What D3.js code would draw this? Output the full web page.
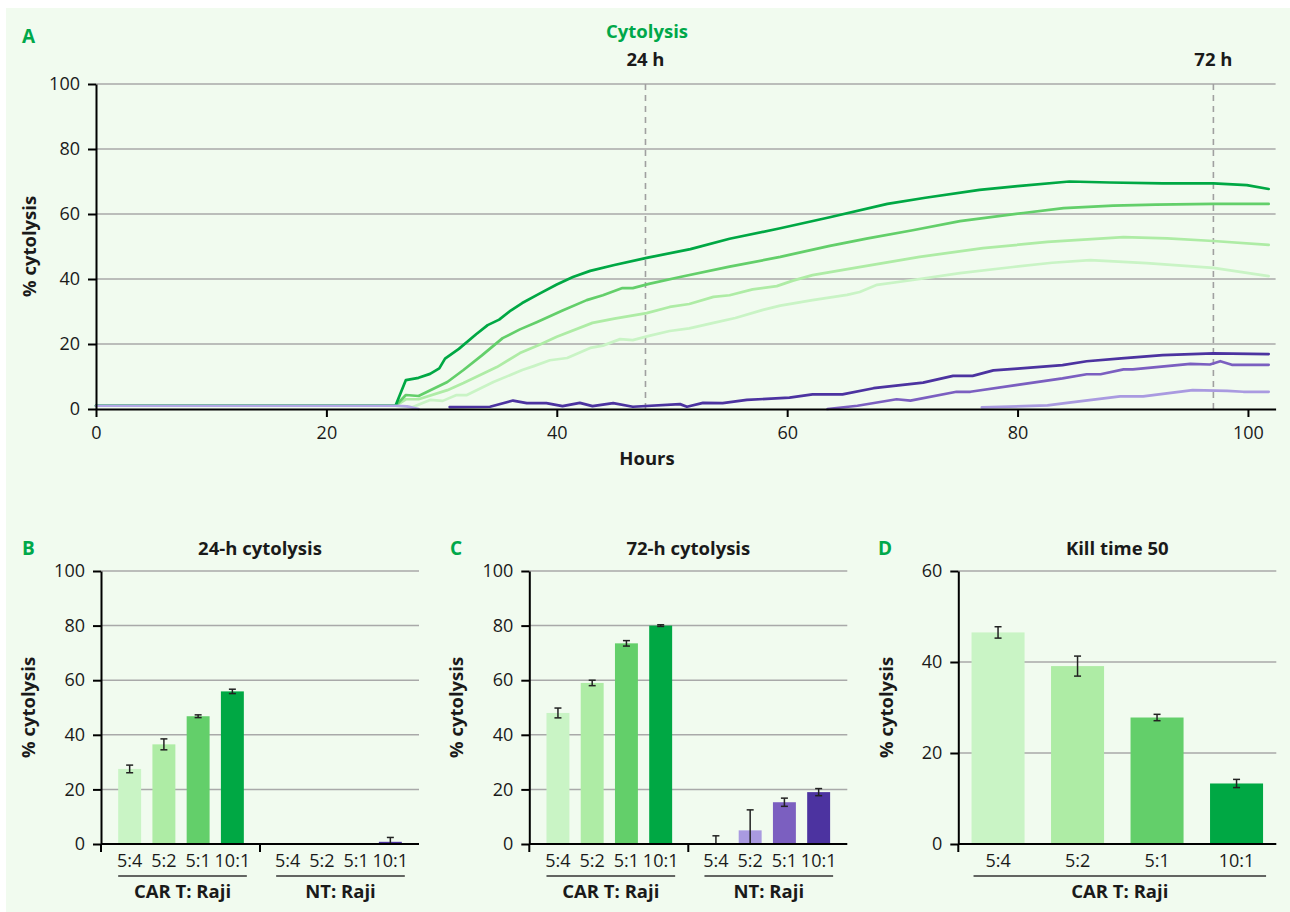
<!DOCTYPE html>
<html><head><meta charset="utf-8">
<script src="https://cdn.jsdelivr.net/npm/d3@7"></script>
<style>
body{margin:0;background:#fff}
svg text{font-family:"Open Sans","Noto Sans",sans-serif;fill:#1a1a1a}
</style>
</head><body><svg id="c" width="1290" height="912"></svg>
<script>
// ---------- DATA ----------
const hourTicks = [0, 20, 40, 60, 80, 100];
const pctTicks = [0, 20, 40, 60, 80, 100];
const killTicks = [0, 20, 40, 60];
const ratios = ["5:4", "5:2", "5:1", "10:1"];
const groupNames = ["CAR T: Raji", "NT: Raji"];
const markers = [{label: "24 h", hour: 47.7}, {label: "72 h", hour: 97}];

// time courses: [hour, % cytolysis]
const carT_10_1 = [[0,1],[26,1],[26.9,8.9],[28,9.6],[29,10.8],[29.8,12.5],[30.3,15.5],[31.5,18.5],[33,23],[34,25.8],[35,27.5],[36,30.3],[37,32.6],[38.5,35.5],[40,38.3],[41.4,40.6],[42.9,42.5],[45,44.3],[47.8,46.5],[51.6,49.2],[55,52.4],[59.4,55.6],[63.7,59],[68.7,63.1],[72,65],[76.7,67.4],[80,68.6],[84.5,70],[88,69.7],[92.6,69.4],[97,69.4],[99.9,68.9],[101.8,67.7]];
const carT_5_1 = [[0,1],[26,1],[26.9,4.3],[28,4.0],[30.5,8.3],[31.9,12],[33.5,16.5],[35.3,21.8],[36.8,24.5],[38.3,26.8],[40.5,30.3],[42.6,33.5],[44,35],[45.7,37.2],[46.6,37.2],[48,38.5],[50.7,40.6],[55,43.8],[59.4,46.8],[63.7,50.2],[67,52.5],[70.9,55],[75,57.8],[80.5,60.3],[84,61.8],[88.3,62.6],[92,62.9],[97,63.1],[101.8,63.1]];
const carT_5_2 = [[0,1],[26,1],[26.9,3],[28,3],[30.5,5.8],[31.9,8],[34.8,12.9],[36.8,17.2],[38.5,19.8],[40,22.2],[43.1,26.5],[45,27.8],[47.8,29.5],[49.8,31.4],[51.5,32.3],[53.6,34.5],[55,35],[57,36.8],[59.1,37.8],[60.5,39.5],[62.2,41.2],[66,43.5],[71.5,46.8],[77,49.5],[82.6,51.4],[89.2,52.9],[93,52.5],[97,51.7],[101.8,50.5]];
const carT_5_4 = [[0,1],[26,1],[27.5,0.6],[29,2.8],[30.1,2.5],[31.3,4.3],[32.2,4.3],[34.5,8.3],[37,12],[38,13.2],[39.4,15],[40.9,15.7],[42.9,18.8],[44,19.5],[45.5,21.5],[46.6,21.2],[48,22.5],[49.8,24],[51.5,24.8],[53.6,26.5],[55.5,28],[57.9,30.5],[59.4,31.8],[62.2,33.5],[65.2,35.1],[66.3,36],[67.8,38.2],[70.9,39.7],[75,41.8],[79.6,43.7],[83,45],[86.3,45.8],[91.2,44.9],[97,43.4],[101.8,40.9]];
const nt_10_1 = [[30.7,0.6],[34.2,0.7],[36.2,2.6],[37.4,1.8],[39.1,1.8],[40.5,0.9],[42,1.9],[43.1,0.9],[44.9,1.8],[46.6,0.7],[50.7,1.5],[51.3,0.7],[52.7,1.9],[54.4,1.8],[56.5,2.8],[60.2,3.5],[62.2,4.5],[64.8,4.5],[67.5,6.4],[71.8,8.1],[74.4,10.2],[76.1,10.2],[77.9,11.9],[80,12.4],[83.9,13.5],[86,14.7],[89,15.6],[92.6,16.6],[97,17.1],[101.8,16.9]];
const nt_5_1 = [[63.5,0],[66.1,1],[69.5,3],[70.7,2.6],[74.7,5.3],[75.9,5.3],[80,7.4],[83.9,9.4],[86,10.7],[87.2,10.7],[89.2,12.2],[90,12.2],[95,13.9],[96.7,13.7],[97.6,14.7],[98.6,13.6],[101.8,13.6]];
const nt_5_2 = [[76.9,0.5],[82.6,1.1],[84.3,1.9],[88.9,3.9],[90.9,3.9],[95.2,5.8],[98.2,5.6],[99.6,5.3],[101.8,5.3]];
const nt_5_4 = [[0,1],[26,1],[27,0.8],[28,0]];

// bar data
const car24 = [27.5, 36.5, 46.8, 55.9], car24Err = [1.4, 2.0, 0.5, 0.8];
const nt24 = [0, 0, 0, 0.8], nt24Err = [0, 0, 0, 1.6];
const car72 = [48, 59, 73.5, 80], car72Err = [1.8, 1.0, 1.0, 0.3];
const nt72 = [0, 5, 15.3, 19], nt72Err = [3, 7.5, 1.5, 1.3];
const kt50 = [46.5, 39.1, 27.8, 13.3], kt50Err = [1.25, 2.2, 0.7, 0.9];

// ---------- STYLE ----------
const greens = ["#c9f4c5", "#aeeca5", "#63cf6a", "#00a844"];
const purples = ["#b3a7e6", "#a99ae0", "#7b5fc0", "#4c33a0"];
const letterColor = "#00a84a";
const gridColor = "#a9a9a9";
const tickFont = 18, boldFont = 18.5;

const svg = d3.select("#c");
svg.append("rect").attr("x", 6).attr("y", 8).attr("width", 1284).attr("height", 904).attr("fill", "#f1fbef");

function styleAxis(g) {
  g.selectAll("path.domain").attr("stroke", "#000").attr("stroke-width", 2);
  g.selectAll(".tick line").attr("stroke", "#000").attr("stroke-width", 2);
  g.selectAll(".tick text").attr("font-size", tickFont).attr("fill", "#1a1a1a").attr("font-family", '"Open Sans",sans-serif');
}

// ---------- PANEL A ----------
(function () {
  const x = d3.scaleLinear().domain([0, 102.4]).range([96, 1275.6]);
  const y = d3.scaleLinear().domain([0, 100]).range([409, 84]);
  const g = svg.append("g");
  g.append("g").selectAll("line").data(pctTicks.filter(d => d > 0)).join("line")
    .attr("x1", x.range()[0]).attr("x2", x.range()[1])
    .attr("y1", d => y(d)).attr("y2", d => y(d))
    .attr("stroke", gridColor).attr("stroke-width", 1.5);
  g.append("g").selectAll("line").data(markers).join("line")
    .attr("x1", d => x(d.hour)).attr("x2", d => x(d.hour))
    .attr("y1", y(100)).attr("y2", y(0))
    .attr("stroke", "#a0a0a0").attr("stroke-width", 1.6).attr("stroke-dasharray", "6,5");
  g.append("g").selectAll("text").data(markers).join("text")
    .attr("x", d => x(d.hour)).attr("y", 66).attr("text-anchor", "middle")
    .attr("font-size", boldFont).attr("font-weight", 700).text(d => d.label);

  const line = d3.line().x(d => x(d[0])).y(d => y(d[1]));
  const series = [
    {data: carT_5_4, color: greens[0]}, {data: carT_5_2, color: greens[1]},
    {data: carT_5_1, color: greens[2]}, {data: carT_10_1, color: greens[3]},
    {data: nt_5_2, color: purples[1]}, {data: nt_5_1, color: purples[2]},
    {data: nt_10_1, color: purples[3]}, {data: nt_5_4, color: purples[0]}
  ];
  g.append("g").selectAll("path").data(series).join("path")
    .attr("d", d => line(d.data)).attr("fill", "none")
    .attr("stroke", d => d.color).attr("stroke-width", 2.7)
    .attr("stroke-linejoin", "round").attr("stroke-linecap", "round");

  const ax = g.append("g").attr("transform", `translate(0,${y(0)})`)
    .call(d3.axisBottom(x).tickValues(hourTicks).tickSize(8).tickSizeOuter(0).tickPadding(9));
  styleAxis(ax);
  const ay = g.append("g").attr("transform", `translate(${x(0)},0)`)
    .call(d3.axisLeft(y).tickValues(pctTicks).tickSize(8).tickSizeOuter(0).tickPadding(8));
  styleAxis(ay);

  g.append("text").attr("x", 22).attr("y", 43).attr("font-size", 19).attr("font-weight", 700)
    .style("fill", letterColor).text("A");
  g.append("text").attr("x", 647).attr("y", 38).attr("text-anchor", "middle").attr("font-size", boldFont)
    .attr("font-weight", 700).style("fill", letterColor).text("Cytolysis");
  g.append("text").attr("x", 647).attr("y", 465).attr("text-anchor", "middle").attr("font-size", boldFont)
    .attr("font-weight", 700).text("Hours");
  g.append("text").attr("transform", `translate(30,${(y(0) + y(100)) / 2}) rotate(-90)`)
    .attr("text-anchor", "middle").attr("dy", "0.35em").attr("font-size", boldFont).attr("font-weight", 700)
    .text("% cytolysis");
})();

// ---------- BAR PANELS ----------
function barPanel(opt) {
  const g = svg.append("g");
  const x0 = opt.left, x1 = opt.left + 318;
  const y = d3.scaleLinear().domain([0, opt.max]).range([844, 571]);
  const gx = d3.scaleBand().domain(opt.groups.map(d => d.name)).range([x0, x1])
    .paddingInner(opt.gPadIn).paddingOuter(opt.gPadOut);
  const ix = d3.scaleBand().domain(ratios).range([0, gx.bandwidth()])
    .paddingInner(opt.iPad).paddingOuter(opt.iPad / 2);

  g.append("g").selectAll("line").data(opt.ticks.filter(d => d > 0)).join("line")
    .attr("x1", x0).attr("x2", x1).attr("y1", d => y(d)).attr("y2", d => y(d))
    .attr("stroke", gridColor).attr("stroke-width", 1.5);

  opt.groups.forEach((grp) => {
    const gg = g.append("g").attr("transform", `translate(${gx(grp.name)},0)`);
    const items = ratios.map((r, i) => ({r, v: grp.values[i], e: grp.errs[i], c: grp.colors[i]}));
    gg.selectAll("rect").data(items.filter(d => d.v > 0)).join("rect")
      .attr("x", d => ix(d.r)).attr("width", ix.bandwidth())
      .attr("y", d => y(d.v)).attr("height", d => y(0) - y(d.v)).attr("fill", d => d.c);
    const eb = gg.append("g").selectAll("g").data(items.filter(d => d.e > 0)).join("g")
      .attr("transform", d => `translate(${ix(d.r) + ix.bandwidth() / 2},0)`);
    eb.append("line").attr("y1", d => y(Math.max(0, d.v - d.e))).attr("y2", d => y(d.v + d.e))
      .attr("stroke", "#222").attr("stroke-width", 1.5);
    eb.append("line").attr("x1", -3.5).attr("x2", 3.5).attr("y1", d => y(d.v + d.e)).attr("y2", d => y(d.v + d.e))
      .attr("stroke", "#222").attr("stroke-width", 1.5);
    eb.filter(d => d.v - d.e > 0).append("line").attr("x1", -3.5).attr("x2", 3.5)
      .attr("y1", d => y(d.v - d.e)).attr("y2", d => y(d.v - d.e))
      .attr("stroke", "#222").attr("stroke-width", 1.5);
    gg.selectAll("text.cat").data(ratios).join("text").attr("class", "cat")
      .attr("x", d => ix(d) + ix.bandwidth() / 2).attr("y", 867).attr("text-anchor", "middle")
      .attr("font-size", tickFont).text(d => d);
    const ux0 = ix(ratios[0]) + (opt.ulInset || 0), ux1 = ix(ratios[3]) + ix.bandwidth() + 3;
    gg.append("line").attr("x1", ux0).attr("x2", ux1).attr("y1", 876).attr("y2", 876)
      .attr("stroke", "#333").attr("stroke-width", 1.5);
    gg.append("text").attr("x", (ux0 + ux1) / 2).attr("y", 898).attr("text-anchor", "middle")
      .attr("font-size", boldFont).attr("font-weight", 700).text(grp.name);
  });

  // axes
  const ay = g.append("g").attr("transform", `translate(${x0},0)`)
    .call(d3.axisLeft(y).tickValues(opt.ticks).tickSize(8).tickSizeOuter(0).tickPadding(8));
  styleAxis(ay);
  g.append("line").attr("x1", x0).attr("x2", x1).attr("y1", y(0)).attr("y2", y(0))
    .attr("stroke", "#000").attr("stroke-width", 2);
  const sepTicks = [x0];
  if (opt.groups.length > 1) sepTicks.push((gx(opt.groups[0].name) + gx.bandwidth() + gx(opt.groups[1].name)) / 2);
  g.append("g").selectAll("line").data(sepTicks).join("line")
    .attr("x1", d => d).attr("x2", d => d).attr("y1", y(0)).attr("y2", y(0) + 8)
    .attr("stroke", "#000").attr("stroke-width", 2);

  g.append("text").attr("x", opt.letterX).attr("y", 555).attr("font-size", 19).attr("font-weight", 700)
    .style("fill", letterColor).text(opt.letter);
  g.append("text").attr("x", (x0 + x1) / 2).attr("y", 555).attr("text-anchor", "middle")
    .attr("font-size", boldFont).attr("font-weight", 700).text(opt.title);
  g.append("text").attr("transform", `translate(${opt.ylabX},${(y(0) + y(opt.max)) / 2}) rotate(-90)`)
    .attr("text-anchor", "middle").attr("dy", "0.35em").attr("font-size", boldFont).attr("font-weight", 700)
    .text("% cytolysis");
}

barPanel({
  left: 101, max: 100, ticks: pctTicks, letter: "B", letterX: 22, ylabX: 29, title: "24-h cytolysis",
  gPadIn: 0.133, gPadOut: 0.073, iPad: 0.33,
  groups: [{name: groupNames[0], values: car24, errs: car24Err, colors: greens},
           {name: groupNames[1], values: nt24, errs: nt24Err, colors: purples}]
});
barPanel({
  left: 529.3, max: 100, ticks: pctTicks, letter: "C", letterX: 450, ylabX: 457, title: "72-h cytolysis",
  gPadIn: 0.133, gPadOut: 0.073, iPad: 0.33,
  groups: [{name: groupNames[0], values: car72, errs: car72Err, colors: greens},
           {name: groupNames[1], values: nt72, errs: nt72Err, colors: purples}]
});
barPanel({
  left: 958.3, max: 60, ticks: killTicks, letter: "D", letterX: 878, ylabX: 887, title: "Kill time 50",
  gPadIn: 0, gPadOut: 0, iPad: 0.333, ulInset: 2,
  groups: [{name: groupNames[0], values: kt50, errs: kt50Err, colors: greens}]
});
</script>
</body></html>
